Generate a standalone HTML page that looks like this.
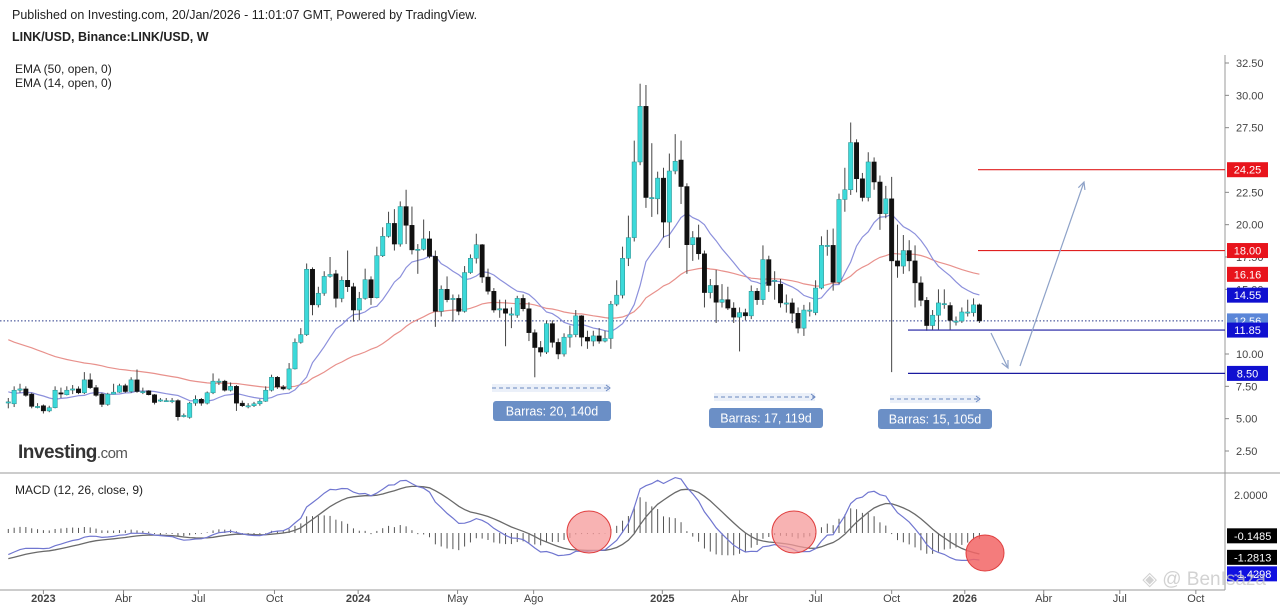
<!DOCTYPE html>
<html><head><meta charset="utf-8">
<style>
html,body{margin:0;padding:0;background:#fff;}
body{width:1280px;height:606px;overflow:hidden;position:relative;font-family:"Liberation Sans",sans-serif;}
svg{position:absolute;left:0;top:0;}
text{font-family:"Liberation Sans",sans-serif;}
</style></head>
<body>
<svg id="chart" width="1280" height="606" viewBox="0 0 1280 606">
  <text x="12" y="19" font-size="12.5" fill="#222">Published on Investing.com, 20/Jan/2026 - 11:01:07 GMT, Powered by TradingView.</text>
  <text x="12" y="41" font-size="12.5" font-weight="bold" fill="#222">LINK/USD, Binance:LINK/USD, W</text>
  <text x="15" y="73" font-size="12" fill="#222">EMA (50, open, 0)</text>
  <text x="15" y="87" font-size="12" fill="#222">EMA (14, open, 0)</text>
  <g>
    <text x="18" y="458" font-size="19" font-weight="bold" fill="#333" letter-spacing="-0.5">Investing<tspan font-weight="normal" font-size="15" fill="#555">.com</tspan></text>
  </g>
  <line x1="0" y1="473" x2="1280" y2="473" stroke="#999" stroke-width="1"/>
  <line x1="0" y1="590" x2="1225" y2="590" stroke="#999" stroke-width="1"/>
  <line x1="1225" y1="55" x2="1225" y2="590" stroke="#999" stroke-width="1"/>
  <text x="15" y="494" font-size="12" fill="#222">MACD (12, 26, close, 9)</text>
  <g id="layer"></g>
  <text x="1266" y="585" font-size="19" fill="#c8c8c8" opacity="0.8" text-anchor="end">◈ @ BenIsaza</text>
</svg>
<script>
const opens=[6.3,6.15,7.2,7.3,6.9,5.95,6.0,5.6,5.85,7.0,6.85,7.25,7.3,7.0,8.0,7.4,6.9,6.1,6.9,7.05,7.55,7.1,8.0,7.1,7.15,6.85,6.45,6.4,6.4,6.4,5.25,5.1,6.2,6.5,6.2,7.0,7.9,7.9,7.2,7.5,6.2,6.0,6.0,6.15,6.35,7.2,8.2,7.45,7.3,8.85,10.9,11.5,16.55,13.8,14.7,16.0,16.2,14.3,15.7,15.2,13.4,14.3,15.75,14.35,17.6,19.1,20.1,18.5,21.4,19.95,18.05,18.1,18.9,17.55,13.3,15.0,14.3,14.3,13.3,16.3,17.4,18.45,15.95,14.85,13.5,13.5,13.1,13.0,14.3,13.5,11.65,10.5,10.15,12.35,10.9,10.0,11.3,11.5,12.95,11.3,11.0,11.4,11.0,11.2,13.85,14.55,17.4,19.0,24.85,29.15,22.1,22.0,23.6,20.2,24.15,25.0,22.95,18.45,19.0,17.75,14.75,15.3,14.0,14.2,13.55,12.85,13.2,12.95,14.85,14.2,17.3,15.7,15.4,13.95,13.95,13.15,12.0,13.4,13.2,15.1,18.4,18.4,15.55,21.95,22.7,26.35,23.55,22.1,24.85,23.3,20.85,22.0,17.2,16.8,18.0,17.2,15.5,14.15,12.2,13.0,13.9,13.75,12.55,12.55,13.25,13.2,13.8];
const closes=[6.3,7.2,7.3,6.8,5.95,5.95,5.6,5.85,7.2,6.9,7.2,7.3,7.0,8.0,7.4,6.8,6.1,6.9,7.05,7.55,7.1,8.0,7.1,7.1,6.85,6.25,6.45,6.4,6.4,5.15,5.25,6.2,6.5,6.2,7.0,7.9,7.9,7.2,7.5,6.2,6.0,6.0,6.15,6.35,7.2,8.2,7.45,7.3,8.85,10.9,11.5,16.55,13.8,14.7,16.0,16.15,14.3,15.7,15.2,13.4,14.3,15.75,14.35,17.6,19.1,20.1,18.5,21.4,19.95,18.05,18.1,18.9,17.55,13.3,15.0,14.2,14.3,13.3,16.3,17.4,18.45,15.95,14.85,13.4,13.5,13.15,13.1,14.3,13.5,11.65,10.5,10.15,12.35,10.9,10.0,11.3,11.5,12.95,11.3,11.0,11.4,11.0,11.2,13.85,14.55,17.4,19.0,24.85,29.15,22.1,22.1,23.6,20.2,24.15,24.9,22.95,18.45,19.0,17.75,14.75,15.3,14.0,14.2,13.55,12.85,13.2,12.95,14.85,14.2,17.3,15.3,15.7,13.95,13.95,13.15,12.0,13.4,13.4,15.1,18.4,18.4,15.55,21.95,22.7,26.35,23.55,22.1,24.85,23.3,20.85,22.0,17.2,16.8,18.0,17.2,15.5,14.15,12.2,13.0,13.95,13.9,12.6,12.55,13.25,13.25,13.8,12.56];
const highs=[6.6,7.5,7.7,7.5,7.0,6.2,6.1,6.0,7.5,7.4,7.5,7.6,7.5,8.6,8.5,7.6,7.0,7.0,7.7,7.7,7.7,8.2,8.8,7.4,7.2,6.9,6.6,6.6,6.6,6.5,5.4,6.3,6.8,6.6,7.1,8.5,8.1,8.0,7.8,7.6,6.4,6.2,6.3,6.5,7.5,8.4,8.3,7.6,9.3,11.2,12.0,17.0,16.7,15.2,16.4,17.5,16.5,16.0,18.0,15.5,14.8,16.6,16.0,18.3,19.8,21.0,21.2,21.8,22.7,21.4,18.5,20.4,19.5,18.0,15.3,16.0,14.6,14.6,16.8,17.7,19.3,18.5,16.6,15.1,14.2,14.2,13.6,14.5,14.6,14.0,11.9,11.0,12.6,12.6,11.2,11.6,12.2,13.4,13.0,11.8,11.8,12.0,11.8,14.1,15.7,18.3,20.7,26.5,30.9,30.8,26.3,24.1,24.4,25.5,27.0,26.5,23.2,19.5,20.0,18.0,15.8,16.5,15.4,15.2,14.0,13.6,13.5,15.3,15.1,18.4,17.6,16.4,15.8,14.6,14.3,13.6,13.8,14.0,15.7,19.1,19.6,19.7,22.4,24.4,27.9,26.6,24.0,25.6,25.2,23.8,23.0,23.7,20.0,19.2,18.8,18.4,16.0,14.4,13.4,15.0,15.0,14.0,12.9,13.6,14.2,14.3,13.9];
const lows=[5.8,5.9,7.0,6.7,5.8,5.8,5.4,5.5,5.8,6.6,6.8,6.9,6.9,6.9,7.3,6.7,5.9,6.0,6.9,7.0,7.0,7.0,7.0,6.9,6.8,6.1,6.3,6.3,6.2,4.85,5.1,5.0,6.0,6.0,6.1,6.9,7.6,7.1,7.1,5.6,5.9,5.8,5.9,6.0,6.3,7.1,7.3,7.2,7.2,8.8,10.8,11.4,13.0,13.6,14.5,15.9,13.6,14.0,14.8,12.5,12.6,14.2,13.8,14.3,17.5,19.0,18.0,18.3,18.5,17.7,16.2,18.0,17.4,12.1,12.9,14.0,12.5,13.0,13.2,16.2,17.0,15.5,14.6,13.2,12.8,10.6,12.0,12.8,13.3,11.0,8.2,9.8,10.0,10.5,9.6,9.8,10.5,11.3,10.6,10.4,10.6,10.8,10.9,10.4,13.7,14.3,16.8,18.7,24.6,21.3,20.6,20.8,19.0,18.2,23.9,21.6,16.2,17.2,17.3,13.6,14.3,12.4,13.6,13.4,12.4,10.2,12.6,12.7,13.8,13.8,14.8,14.2,13.6,13.2,12.4,11.6,11.4,12.9,13.0,15.0,17.6,14.9,15.4,21.0,22.3,22.5,21.8,21.8,22.7,19.6,20.5,8.6,15.9,16.2,16.4,13.6,13.7,11.8,11.9,11.9,13.5,11.9,12.2,12.4,12.9,12.9,12.4];
const priceTicks=[2.5,5,7.5,10,15,17.5,20,22.5,27.5,30,32.5];
const timeLabels=["2023","Abr","Jul","Oct","2024","May","Ago","2025","Abr","Jul","Oct","2026","Abr","Jul","Oct"];
const timeLabelWeeks=[6,19.7,32.5,45.5,59.8,76.8,89.8,111.8,125,138,151,163.5,177,190,203];
const boldLabels=[true,false,false,false,true,false,false,true,false,false,false,true,false,false,false];
const ema50Seed=11.3, ema14Seed=7.2, ema12Seed=6.6, ema26Seed=7.8, signalSeed=-1.4;
const levelPrices=[24.25,18.00,11.85,8.50];
const levelColors=["#e02020","#e02020","#1a1aa0","#1a1aa0"];
const levelStartX=[978,978,908,908];
const axisBoxes=[["24.25",24.25,"#e8141c"],["18.00",18.00,"#e8141c"],["16.16",16.16,"#e8141c"],["14.55",14.55,"#1010d0"],["12.56",12.56,"#5b86d8"],["11.85",11.85,"#1010d0"],["8.50",8.50,"#1010d0"]];
const macdBoxes=[["2.0000",2.0,null],["-0.1485",-0.1485,"#000"],["-1.2813",-1.2813,"#000"],["-1.4298",-2.15,"#1010e0"]];

const NS="http://www.w3.org/2000/svg";
const layer=document.getElementById('layer');
function X(i){return 8.3+5.85*i;}
function Y(p){return 451-(p-2.5)*12.933;}
function MY(v){return 533-v*19;}
function mk(tag,attrs,parent){const e=document.createElementNS(NS,tag);for(const k in attrs)e.setAttribute(k,attrs[k]);(parent||layer).appendChild(e);return e;}

priceTicks.forEach(p=>{
  const t=mk('text',{x:1236,y:Y(p)+4,'font-size':11,fill:'#444'});
  t.textContent=p.toFixed(2);
  
  
  mk('line',{x1:1225,y1:Y(p),x2:1229,y2:Y(p),stroke:'#888'});
});
timeLabels.forEach((l,k)=>{
  const t=mk('text',{x:X(timeLabelWeeks[k]),y:602,'font-size':11,fill:'#444','text-anchor':'middle','font-weight':boldLabels[k]?'bold':'normal'});
  t.textContent=l;
  
  
  mk('line',{x1:X(timeLabelWeeks[k]),y1:590,x2:X(timeLabelWeeks[k]),y2:594,stroke:'#888'});
});
const dl=mk('line',{x1:0,y1:Y(12.56),x2:1225,y2:Y(12.56),stroke:'#2a3a8a','stroke-width':1,'stroke-dasharray':'1.5,2'});


function ema(src,n,seed){const a=2/(n+1);let v=seed;return src.map(x=>{v=v+a*(x-v);return v;});}
const e50=ema(opens,50,ema50Seed), e14=ema(opens,14,ema14Seed);
function path(arr,fy){return arr.map((v,i)=>(i?'L':'M')+X(i).toFixed(1)+' '+fy(v).toFixed(1)).join('');}
const p50=mk('path',{d:path(e50,Y),fill:'none',stroke:'#e8918c','stroke-width':1.2});


const p14=mk('path',{d:path(e14,Y),fill:'none',stroke:'#8c90dc','stroke-width':1.2});


opens.forEach((o,i)=>{
  const c=closes[i],x=X(i),up=c>=o;
  const g=mk('g',{});
  
  
  mk('line',{x1:x,y1:Y(highs[i]),x2:x,y2:Y(lows[i]),stroke:'#444','stroke-width':1},g);
  const top=Y(Math.max(o,c)),h=Math.max(1.2,Math.abs(Y(o)-Y(c)));
  mk('rect',{x:x-2.2,y:top,width:4.4,height:h,fill:up?'#3cd9d9':'#111',stroke:up?'#2a8a8a':'#111','stroke-width':0.5},g);
});
levelPrices.forEach((p,k)=>{
  const l=mk('line',{x1:levelStartX[k],y1:Y(p),x2:1225,y2:Y(p),stroke:levelColors[k],'stroke-width':1.2});
  
  
});
axisBoxes.forEach(b=>{
  const g=mk('g',{});
  
  
  mk('rect',{x:1227,y:Y(b[1])-7.5,width:41,height:15,fill:b[2]},g);
  const t=mk('text',{x:1247.5,y:Y(b[1])+4,'font-size':11,fill:'#fff','text-anchor':'middle'},g);t.textContent=b[0];
});
function arrow(x1,y1,x2,y2,name){
  const g=mk('g',{});
  
  
  mk('line',{x1:x1,y1:y1,x2:x2,y2:y2,stroke:'#8ea2c8','stroke-width':1.2},g);
  const a=Math.atan2(y2-y1,x2-x1),L=8;
  mk('path',{d:`M${x2-L*Math.cos(a-0.45)} ${y2-L*Math.sin(a-0.45)}L${x2} ${y2}L${x2-L*Math.cos(a+0.45)} ${y2-L*Math.sin(a+0.45)}`,fill:'none',stroke:'#8ea2c8','stroke-width':1.2},g);
}
arrow(991,333,1008,368,'down-projection-arrow');
arrow(1020,366,1084,182,'up-projection-arrow');
function measure(x1,x2,ly,bx,by,bw,label){
  const g=mk('g',{});
  
  
  mk('rect',{x:x1,y:ly-4,width:x2-x1,height:8,fill:'#dde6f5',opacity:0.6},g);
  mk('line',{x1:x1,y1:ly,x2:x2,y2:ly,stroke:'#6a87c0','stroke-dasharray':'4,3'},g);
  mk('path',{d:`M${x2-4} ${ly-3}L${x2} ${ly}L${x2-4} ${ly+3}`,fill:'none',stroke:'#6a87c0'},g);
  mk('rect',{x:bx,y:by,width:bw,height:20,rx:3,fill:'#6b8fc6'},g);
  const t=mk('text',{x:bx+bw/2,y:by+14.5,'font-size':12.5,fill:'#fff','text-anchor':'middle'},g);t.textContent=label;
}
measure(492,610,388,493,401,118,'Barras: 20, 140d');
measure(714,815,397,709,408,114,'Barras: 17, 119d');
measure(890,980,399,878,409,114,'Barras: 15, 105d');
const e12=ema(closes,12,ema12Seed), e26=ema(closes,26,ema26Seed);
const macd=e12.map((v,i)=>v-e26[i]);
const sig=ema(macd,9,signalSeed);
macd.forEach((m,i)=>{
  const h=m-sig[i];
  const l=mk('line',{x1:X(i),y1:MY(0),x2:X(i),y2:MY(h)+(Math.abs(h)<0.03?1:0),stroke:'#555','stroke-width':1});
  
  
});
const ms=mk('path',{d:path(sig,MY),fill:'none',stroke:'#6a6a6a','stroke-width':1.3});


const mm=mk('path',{d:path(macd,MY),fill:'none',stroke:'#7076d0','stroke-width':1.2});


[[589,532,21,'#f59a9a',0.75],[794,532,21,'#f59a9a',0.75],[985,553,18,'#f26565',0.85]].forEach(c=>{
  const e=mk('ellipse',{cx:c[0],cy:c[1],rx:c[2]+1,ry:c[2],fill:c[3],'fill-opacity':c[4],stroke:'#e04040','stroke-width':1});
  
  
});
macdBoxes.forEach(b=>{
  const g=mk('g',{});
  
  
  if(b[2]) mk('rect',{x:1227,y:MY(b[1])-7.5,width:50,height:15,fill:b[2]},g);
  const t=mk('text',{x:1234,y:MY(b[1])+4,'font-size':11,fill:b[2]?'#fff':'#444'},g);t.textContent=b[0];
});
</script>
</body></html>
